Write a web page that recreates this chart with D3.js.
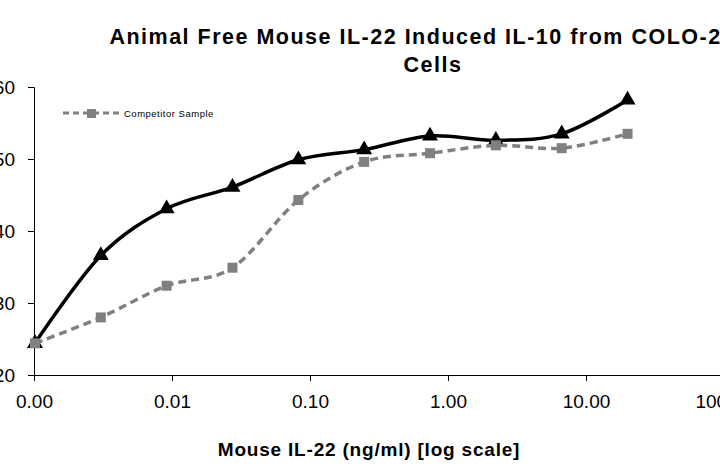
<!DOCTYPE html>
<html>
<head>
<meta charset="utf-8">
<script src="https://cdn.jsdelivr.net/npm/d3@7"></script>
<style>
  body { margin: 0; background: #fff; }
  text { font-family: "Liberation Sans", Arial, sans-serif; }
</style>
</head>
<body>
<div id="chart"></div>
<script>
// IL-22 dilution series (ng/ml), 3-fold steps
var doses = [0.001016, 0.003048, 0.009145, 0.02743, 0.0823, 0.2469, 0.7407, 2.222, 6.667, 20];
// IL-10 readout
var animalFree = [24.4, 36.6, 43.1, 46.1, 49.9, 51.3, 53.2, 52.6, 53.5, 58.2];
var competitor = [24.4, 28.0, 32.4, 34.9, 44.3, 49.6, 50.8, 51.9, 51.5, 53.5];
var xTicks = [0.001, 0.01, 0.1, 1, 10, 100];
var yTicks = [20, 30, 40, 50, 60];

var width = 720, height = 467;

var svg = d3
  .select("#chart")
  .append("svg")
  .attr("width", width)
  .attr("height", height);

var x = d3.scaleLog().domain([0.001, 100]).range([34, 724]);
var y = d3.scaleLinear().domain([20, 60]).range([375, 87]);

// axes
var xAxis = d3.axisBottom(x)
  .tickValues(xTicks)
  .tickSize(6)
  .tickPadding(14)
  .tickFormat(d3.format(".2f"));

svg.append("g")
  .attr("transform", "translate(0," + y(20) + ")")
  .call(xAxis)
  .call(function (g) {
    g.select(".domain").attr("stroke", "#000").attr("stroke-width", 1);
    g.selectAll("text").style("font-size", "19px").attr("fill", "#000");
  });

var yAxis = d3.axisLeft(y).tickValues(yTicks).tickSize(6).tickPadding(13);

svg.append("g")
  .attr("transform", "translate(" + x(0.001) + ",0)")
  .call(yAxis)
  .call(function (g) {
    g.select(".domain").attr("stroke", "#000").attr("stroke-width", 1);
    g.selectAll("text").style("font-size", "19px").attr("fill", "#000");
  });

var line = function (vals) {
  return d3.line()
    .x(function (d, i) { return x(doses[i]); })
    .y(function (d) { return y(d); })
    .curve(d3.curveCardinal.tension(0))(vals);
};

// Animal free series
svg.append("path")
  .attr("d", line(animalFree))
  .attr("fill", "none")
  .attr("stroke", "#000")
  .attr("stroke-width", 3.5);

var tri = d3.symbol().type(d3.symbolTriangle).size(110);
svg.selectAll(".tri")
  .data(animalFree)
  .enter()
  .append("path")
  .attr("class", "tri")
  .attr("d", tri)
  .attr("transform", function (d, i) {
    return "translate(" + x(doses[i]) + "," + y(d) + ")";
  })
  .attr("fill", "#000");

// Competitor series
svg.append("path")
  .attr("d", line(competitor))
  .attr("fill", "none")
  .attr("stroke", "#808080")
  .attr("stroke-width", 3.5)
  .attr("stroke-dasharray", "8,5");

svg.selectAll(".sq")
  .data(competitor)
  .enter()
  .append("rect")
  .attr("class", "sq")
  .attr("x", function (d, i) { return x(doses[i]) - 5; })
  .attr("y", function (d) { return y(d) - 5; })
  .attr("width", 10)
  .attr("height", 10)
  .attr("fill", "#808080");

// legend
var legend = svg.append("g").attr("class", "legend");
legend.append("line")
  .attr("x1", 63).attr("x2", 119)
  .attr("y1", 113).attr("y2", 113)
  .attr("stroke", "#808080")
  .attr("stroke-width", 3)
  .attr("stroke-dasharray", "6,4");
legend.append("rect")
  .attr("x", 87).attr("y", 109)
  .attr("width", 9).attr("height", 9)
  .attr("fill", "#808080");
legend.append("text")
  .attr("x", 124)
  .attr("y", 116.5)
  .style("font-size", "9.5px")
  .style("letter-spacing", "0.5px")
  .text("Competitor Sample");

// title
var title = svg.append("text")
  .attr("text-anchor", "middle")
  .style("font-size", "21.5px")
  .style("font-weight", "bold")
  .style("letter-spacing", "1.5px");
title.append("tspan").attr("x", 429).attr("y", 44)
  .text("Animal Free Mouse IL-22 Induced IL-10 from COLO-205");
title.append("tspan").attr("x", 433).attr("y", 71.5)
  .text("Cells");

svg.append("text")
  .attr("x", 369)
  .attr("y", 456)
  .attr("text-anchor", "middle")
  .style("font-size", "19px")
  .style("font-weight", "bold")
  .style("letter-spacing", "0.8px")
  .text("Mouse IL-22 (ng/ml) [log scale]");
</script>
</body>
</html>
